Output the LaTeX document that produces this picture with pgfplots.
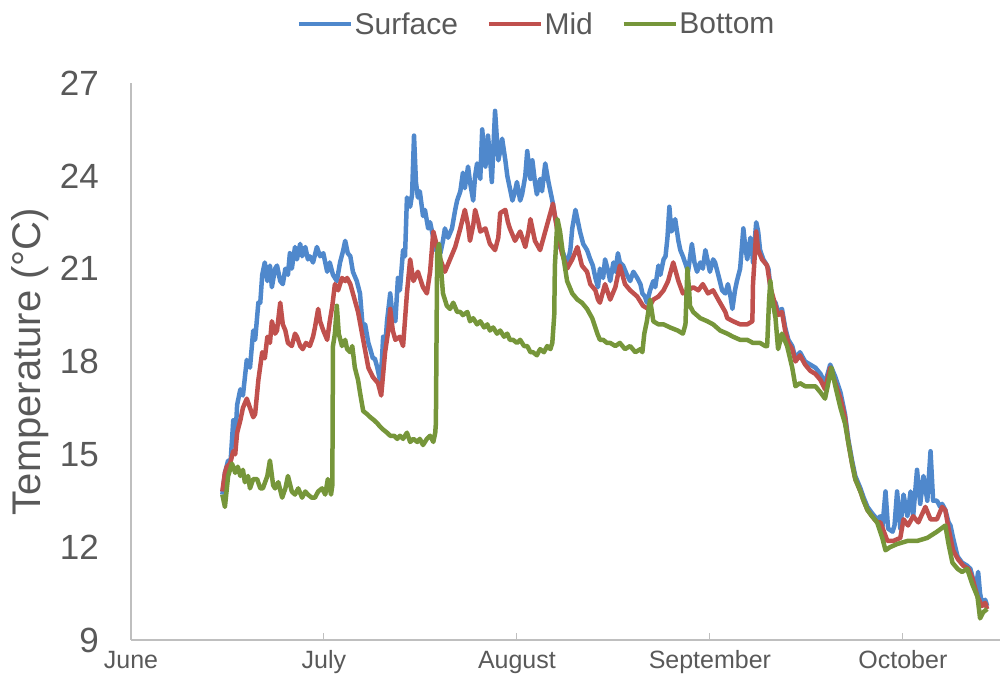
\documentclass[border=0pt]{standalone}
\usepackage{fontspec}
\setmainfont{Liberation Sans}
\usepackage{pgfplots}
\pgfplotsset{compat=1.18}
\definecolor{surfc}{HTML}{4F88CC}
\definecolor{midc}{HTML}{C0504D}
\definecolor{botc}{HTML}{76963A}
\definecolor{axgray}{HTML}{BFBFBF}
\definecolor{txgray}{HTML}{595959}
\begin{document}
\begin{tikzpicture}
\path[use as bounding box] (-131bp,-45bp) rectangle (876bp,640bp);
\begin{axis}[
  at={(0,0)}, anchor=south west,
  scale only axis, width=869bp, height=557bp,
  xmin=0, xmax=135.1, ymin=9, ymax=27,
  axis x line*=bottom, axis y line*=left,
  axis line style={color=axgray, line width=1.3bp},
  xtick={0,30,60,90,120},
  xticklabels={June,July,August,September,October},
  ytick={9,12,15,18,21,24,27},
  /pgf/number format/assume math mode=true,
  tick align=inside, major tick length=7bp,
  xtick style={color=axgray, line width=1bp},
  ytick style={draw=none},
  xticklabel style={font=\fontsize{25bp}{30bp}\selectfont, text=txgray, anchor=base, inner sep=0pt, yshift=-29bp},
  yticklabel style={font=\fontsize{35bp}{42bp}\selectfont, text=txgray, anchor=east, inner sep=0pt, xshift=-32bp},
  ylabel={Temperature (°C)},
  ylabel style={at={(axis description cs:-0.116,0.5)}, anchor=center, font=\fontsize{40bp}{48bp}\selectfont, text=txgray},
  legend style={at={(axis description cs:0.467,1.106)}, anchor=center, draw=none, fill=none,
    legend columns=3, font=\fontsize{30bp}{36bp}\selectfont, text=txgray,
    nodes={inner sep=2bp},
    /tikz/every even column/.append style={column sep=27bp}},
  legend image code/.code={\draw[#1, line width=3.5bp] (0bp,0bp) -- (52bp,0bp);},
  every axis plot/.append style={line width=4.5bp, line join=round},
]
\addplot[surfc] coordinates {
(14.2,13.7)(14.6,14.4)(15.1,14.8)(15.4,14.5)(15.9,16.1)(16.2,15.4)(16.5,16.6)(17.0,17.1)(17.4,16.9)(18.0,18.05)
(18.5,17.8)(19.0,19.0)(19.3,18.7)(19.8,19.9)(20.1,19.9)(20.4,20.8)(20.8,21.2)(21.2,20.6)(21.6,21.1)(21.9,20.4)
(22.4,21.0)(22.7,21.1)(23.2,20.6)(23.6,20.5)(24.0,21.0)(24.4,20.8)(24.7,21.5)(25.0,21.0)(25.5,21.7)(25.8,21.3)
(26.3,21.8)(26.6,21.4)(27.1,21.7)(27.5,21.3)(27.8,21.4)(28.3,21.2)(28.9,21.7)(29.4,21.4)(29.9,21.5)(30.5,20.9)
(30.9,21.2)(31.4,20.8)(32.0,20.6)(32.5,21.2)(33.0,21.6)(33.3,21.9)(33.7,21.5)(34.1,21.4)(34.5,20.9)(35.1,20.6)
(35.6,20.2)(36.1,18.9)(36.4,19.2)(36.9,18.6)(37.2,18.4)(37.6,18.1)(37.9,18.1)(38.3,17.8)(38.7,17.4)(39.0,18.0)
(39.2,18.8)(39.5,18.4)(39.8,19.3)(40.3,20.2)(40.6,19.6)(41.1,19.3)(41.5,20.7)(41.8,20.3)(42.3,21.6)(42.6,21.4)
(42.9,23.3)(43.4,23.0)(43.7,23.4)(44.0,25.3)(44.3,23.8)(44.6,23.3)(44.9,23.5)(45.4,22.7)(45.7,22.9)(46.2,22.3)
(46.5,22.5)(47.0,22.0)(47.4,21.6)(48.1,21.5)(48.5,21.9)(48.8,22.3)(49.3,22.0)(49.9,22.3)(50.4,22.9)(50.7,23.2)
(51.2,23.5)(51.6,24.1)(51.9,23.6)(52.4,24.3)(52.7,23.8)(53.2,23.2)(53.5,24.0)(53.8,24.4)(54.3,23.9)(54.6,25.5)
(55.1,24.3)(55.5,25.3)(55.8,24.6)(56.1,23.8)(56.6,26.1)(57.1,24.5)(57.4,24.8)(57.7,25.2)(58.2,24.5)(58.5,24.0)
(58.9,23.6)(59.3,23.2)(59.7,23.5)(60.0,23.8)(60.5,23.2)(60.8,23.4)(61.3,24.0)(61.6,24.8)(62.1,23.9)(62.4,24.5)
(62.8,23.8)(63.1,23.4)(63.6,23.9)(63.9,23.5)(64.4,24.4)(64.9,23.8)(65.2,23.5)(65.5,23.2)(65.9,22.7)(66.3,22.3)
(66.7,21.7)(67.2,21.5)(67.8,21.1)(68.3,21.6)(68.6,22.3)(69.1,22.9)(69.5,22.5)(69.8,22.2)(70.3,21.8)(70.9,21.6)
(71.4,21.3)(71.8,21.1)(72.2,20.7)(72.6,20.4)(72.9,21.0)(73.4,20.7)(73.7,21.3)(74.2,20.9)(74.5,20.6)(75.0,21.2)
(75.3,20.9)(75.7,21.5)(76.0,21.2)(76.5,21.1)(77.1,20.8)(77.6,20.6)(78.1,20.9)(78.7,20.7)(79.2,20.5)(79.5,20.2)
(79.9,20.1)(80.2,19.9)(80.7,20.3)(81.2,20.6)(81.5,20.4)(82.0,21.1)(82.3,20.8)(82.8,21.3)(83.1,21.4)(83.4,22.0)
(83.7,23.0)(84.0,22.2)(84.3,22.3)(84.6,22.6)(85.1,21.9)(85.4,21.6)(85.8,21.4)(86.3,21.1)(86.6,20.9)(87.2,21.8)
(87.6,21.2)(88.0,20.9)(88.5,21.2)(88.9,21.0)(89.3,21.6)(89.7,21.2)(90.0,20.9)(90.5,21.3)(90.8,21.2)(91.3,20.8)
(91.9,20.3)(92.4,20.2)(92.8,20.5)(93.2,20.1)(93.5,19.7)(93.9,20.3)(94.2,20.6)(94.7,21.0)(95.2,22.3)(95.5,21.7)
(95.8,21.3)(96.3,22.0)(96.6,21.5)(96.7,21.2)(97.2,22.5)(97.5,22.2)(97.8,21.6)(98.3,21.3)(98.6,21.2)(99.1,21.0)
(99.4,20.4)(99.7,20.0)(100.2,19.9)(100.6,19.6)(101.2,19.7)(101.7,19.1)(102.2,18.7)(102.8,18.5)(103.3,18.1)(104.0,18.3)
(104.8,18.0)(105.6,17.9)(106.4,17.8)(107.2,17.6)(107.9,17.3)(108.7,17.9)(109.5,17.5)(110.3,17.0)(111.0,16.3)(111.5,15.5)
(112.1,14.8)(112.6,14.3)(113.4,13.9)(113.9,13.6)(114.5,13.3)(115.2,13.1)(116.0,12.9)(116.5,13.0)(116.8,12.6)(117.3,13.8)
(117.7,12.6)(118.4,12.5)(118.7,12.7)(119.1,13.8)(119.6,12.6)(120.1,13.7)(120.7,13.0)(121.2,13.8)(121.6,13.0)(122.2,14.5)
(122.7,13.4)(123.2,14.3)(123.8,13.5)(124.3,15.1)(124.7,13.5)(125.3,13.5)(125.8,13.3)(126.1,13.4)(126.6,13.2)(127.1,12.8)
(127.4,12.7)(127.8,12.3)(128.5,11.7)(129.2,11.5)(130.0,11.4)(130.5,11.3)(131.0,10.9)(131.3,10.6)(131.7,11.2)(132.0,10.5)
(132.3,10.2)(132.8,10.3)(133.1,10.1)
};
\addlegendentry{Surface}
\addplot[midc] coordinates {
(14.2,13.8)(14.6,14.4)(14.9,14.6)(15.4,14.7)(15.9,15.1)(16.2,15.0)(16.5,15.7)(17.0,16.1)(17.4,16.5)(18.0,16.8)
(18.5,16.5)(19.0,16.2)(19.3,16.3)(19.8,17.4)(20.4,18.3)(20.8,18.1)(21.2,18.8)(21.6,18.6)(21.9,19.3)(22.4,18.9)
(22.7,19.0)(23.2,19.9)(23.6,19.2)(24.0,19.0)(24.4,18.6)(25.0,18.5)(25.5,18.9)(25.8,18.8)(26.3,18.5)(26.7,18.4)
(27.2,18.6)(27.8,18.5)(28.3,18.8)(28.6,19.1)(29.1,19.7)(29.4,19.3)(29.9,19.0)(30.5,18.7)(30.9,19.3)(31.3,19.8)
(31.7,20.5)(32.2,20.3)(32.8,20.7)(33.3,20.6)(33.6,20.7)(34.1,20.5)(34.5,20.2)(35.3,19.6)(36.1,18.7)(36.9,17.8)
(37.6,17.5)(38.4,17.3)(38.9,16.9)(39.2,17.6)(39.5,18.3)(40.0,19.0)(40.3,19.7)(40.7,19.0)(41.1,18.7)(41.8,18.8)
(42.3,18.5)(42.9,20.2)(43.4,21.3)(43.9,20.6)(44.6,20.9)(45.4,20.4)(46.0,20.2)(46.5,20.9)(47.0,22.2)(47.6,21.7)
(48.1,21.3)(48.8,20.9)(49.6,21.3)(50.4,21.7)(51.2,22.3)(51.9,22.9)(52.4,22.4)(52.7,21.9)(53.2,22.4)(53.5,22.9)
(54.0,22.5)(54.3,22.2)(55.1,22.3)(55.8,21.8)(56.6,21.6)(57.1,22.0)(57.4,22.8)(58.2,22.9)(58.6,22.5)(58.9,22.3)
(59.7,21.9)(60.5,22.2)(61.3,21.7)(61.8,22.2)(62.1,22.6)(62.8,21.9)(63.6,21.6)(64.4,22.2)(65.2,22.8)(65.6,23.1)
(66.3,22.2)(67.0,21.5)(67.8,21.0)(68.6,21.3)(69.4,21.7)(70.1,21.1)(70.9,20.9)(71.4,20.5)(71.8,20.4)(72.2,20.3)
(72.6,20.0)(72.9,19.9)(73.7,20.5)(74.5,20.0)(75.3,20.4)(76.0,21.1)(76.8,20.5)(77.6,20.3)(78.7,20.1)(79.6,19.8)
(80.4,19.7)(81.2,20.0)(82.0,20.1)(82.8,20.3)(83.5,20.6)(84.3,21.2)(85.1,20.6)(85.8,20.2)(86.6,20.3)(87.4,20.4)
(88.2,20.3)(88.9,20.5)(89.7,20.2)(90.5,20.3)(91.3,20.0)(92.4,19.6)(92.7,19.4)(93.6,19.3)(94.7,19.2)(95.8,19.2)
(96.6,19.3)(96.7,20.5)(97.2,22.2)(97.5,21.6)(98.1,21.3)(98.9,21.1)(99.4,20.4)(100.2,19.8)(100.6,19.5)(101.2,19.6)
(101.7,19.0)(102.2,18.6)(102.8,18.4)(103.3,18.0)(104.0,18.2)(104.8,17.9)(105.6,17.7)(106.4,17.6)(107.2,17.4)(107.9,17.1)
(108.7,17.8)(109.5,17.3)(110.3,16.8)(111.0,16.2)(111.5,15.4)(112.1,14.7)(112.6,14.2)(113.4,13.8)(113.9,13.5)(114.5,13.2)
(115.2,13.0)(116.0,12.8)(116.5,12.8)(117.6,12.2)(118.5,12.2)(119.6,12.3)(120.1,12.9)(120.8,12.7)(121.6,13.0)(122.4,12.8)
(123.5,13.3)(124.3,12.9)(125.3,12.9)(126.1,13.3)(126.6,13.2)(127.1,12.6)(127.8,11.9)(128.6,11.6)(129.4,11.4)(130.2,11.3)
(130.8,11.0)(131.6,10.4)(132.3,10.1)(132.8,10.2)(133.1,10.0)
};
\addlegendentry{Mid}
\addplot[botc] coordinates {
(14.2,13.7)(14.6,13.3)(15.1,14.3)(15.7,14.7)(16.2,14.4)(16.6,14.6)(17.0,14.3)(17.4,14.5)(17.7,14.1)(18.2,14.3)
(18.5,13.9)(19.0,14.2)(19.6,14.2)(20.1,13.9)(20.5,13.9)(21.2,14.3)(21.6,14.8)(22.1,14.0)(22.4,13.9)(22.9,14.1)
(23.5,13.6)(24.0,13.9)(24.4,14.3)(25.0,13.8)(25.5,13.7)(26.0,13.9)(26.6,13.6)(27.1,13.8)(27.5,13.7)(28.1,13.6)
(28.6,13.6)(29.1,13.8)(29.7,13.9)(30.2,13.7)(30.6,14.2)(31.1,13.7)(31.3,14.0)(31.4,18.5)(31.7,18.9)(32.0,19.8)
(32.3,18.9)(32.8,18.5)(33.3,18.7)(33.6,18.4)(34.1,18.3)(34.4,18.5)(34.8,17.8)(35.3,17.4)(35.6,17.0)(36.1,16.4)
(36.7,16.3)(37.2,16.2)(37.8,16.1)(38.3,16.0)(38.7,15.9)(39.2,15.8)(39.8,15.7)(40.3,15.6)(40.9,15.6)(41.4,15.5)
(41.8,15.6)(42.3,15.5)(42.9,15.7)(43.4,15.4)(43.9,15.5)(44.5,15.4)(44.9,15.5)(45.4,15.3)(46.0,15.5)(46.5,15.6)
(47.0,15.4)(47.3,15.7)(47.4,16.0)(47.6,21.5)(47.9,21.8)(48.2,21.0)(48.5,20.2)(49.1,19.8)(49.6,19.7)(50.1,19.9)
(50.7,19.6)(51.2,19.6)(51.6,19.5)(52.3,19.6)(52.7,19.3)(53.2,19.4)(53.8,19.2)(54.3,19.3)(54.9,19.1)(55.4,19.2)
(55.8,19.0)(56.3,19.1)(56.9,18.9)(57.4,19.0)(58.0,18.8)(58.5,18.9)(58.9,18.7)(59.4,18.7)(60.0,18.6)(60.5,18.7)
(61.1,18.5)(61.6,18.5)(62.1,18.3)(62.5,18.3)(63.1,18.2)(63.6,18.4)(64.2,18.3)(64.7,18.5)(65.2,18.4)(65.5,18.6)
(65.8,19.5)(65.9,21.1)(66.3,22.6)(66.7,22.2)(67.2,21.4)(67.8,20.6)(68.6,20.2)(69.4,20.0)(70.1,19.9)(70.9,19.7)
(71.7,19.4)(72.5,18.9)(72.9,18.7)(73.4,18.7)(74.0,18.6)(74.5,18.6)(75.3,18.5)(76.0,18.6)(76.8,18.4)(77.6,18.5)
(78.4,18.3)(79.2,18.4)(79.5,18.3)(79.8,18.9)(80.2,19.3)(80.7,20.0)(81.2,19.3)(82.0,19.2)(82.8,19.2)(83.8,19.1)
(85.0,19.0)(85.8,18.9)(86.2,19.2)(86.5,21.0)(86.8,20.2)(86.9,19.8)(87.4,19.6)(88.5,19.4)(89.6,19.3)(90.5,19.2)
(91.6,19.0)(92.7,18.9)(93.6,18.8)(94.7,18.7)(95.8,18.7)(96.7,18.6)(97.8,18.6)(98.6,18.5)(98.9,18.5)(99.2,20.0)
(99.4,20.6)(99.7,20.0)(100.2,19.4)(100.6,18.4)(101.2,18.9)(102.0,18.5)(102.8,17.8)(103.3,17.2)(104.0,17.3)(104.8,17.2)
(105.6,17.2)(106.4,17.2)(107.2,17.0)(107.9,16.8)(108.4,17.3)(108.9,17.8)(109.5,17.2)(110.3,16.5)(111.0,16.0)(111.5,15.4)
(112.1,14.7)(112.6,14.2)(113.4,13.8)(113.9,13.5)(114.5,13.2)(115.2,13.0)(116.0,12.8)(116.8,12.3)(117.3,11.9)(118.0,12.0)
(119.1,12.1)(120.7,12.2)(122.2,12.2)(123.8,12.3)(125.3,12.5)(126.6,12.7)(127.1,12.1)(127.7,11.5)(128.5,11.3)(129.2,11.2)
(130.0,11.3)(130.8,10.8)(131.6,10.4)(132.0,9.7)(132.5,9.9)(133.1,10.0)
};
\addlegendentry{Bottom}
\end{axis}
\end{tikzpicture}
\end{document}
